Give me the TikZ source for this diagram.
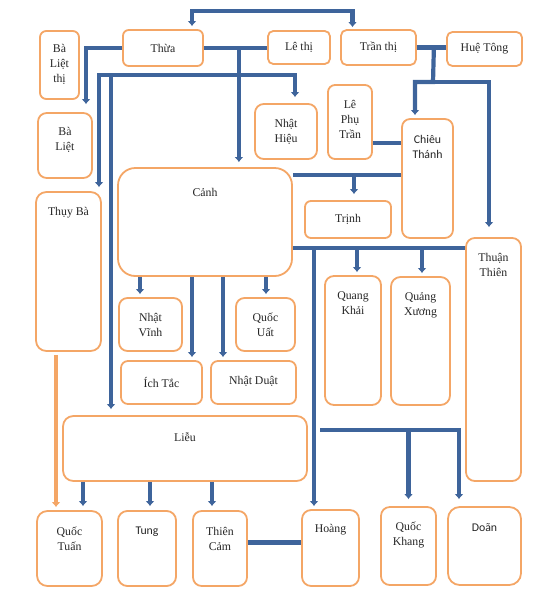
\documentclass[tikz,border=0pt]{standalone}
\usepackage{fontspec}
\setmainfont{Liberation Serif}
\newfontfamily\calibri{Carlito}
\usetikzlibrary{arrows.meta}

\definecolor{linkblue}{RGB}{62,100,155}
\definecolor{boxorange}{RGB}{244,166,102}

\begin{document}
\begin{tikzpicture}[
x=1pt,y=-1pt,
>={Latex[length=5pt,width=9pt]},
famnode/.style={
  draw=boxorange,
  line width=1.8pt,
  fill=white,
  inner sep=0pt
  },
famtext/.style={align=center,inner sep=0pt,text=black!85,font=\fontsize{11.8}{15}\selectfont},
link/.style={draw=linkblue,line width=4.2pt},
arrow/.style={link,->,shorten >=4pt},
orangearrow/.style={draw=boxorange,line width=3.5pt,->,shorten <=3pt,shorten >=3pt}
]
\useasboundingbox (0,0) rectangle (551,594);

% boxes: name/left/top/right/bottom
\foreach \n/\xa/\ya/\xb/\yb in {
  balietthi/40/31/79/99, thua/123/30/203/66, lethi/268/31/330/64,
  tranthi/341/30/416/65, huetong/447/32/522/66, baliet/38/113/92/178,
  nhathieu/255/104/317/159, lephutran/328/85/372/159,
  chieuthanh/402/119/453/238, canh/118/168/292/276, thuyba/36/192/101/351,
  trinh/305/201/391/238, thuanthien/466/238/521/481,
  quangkhai/325/276/381/405, quangxuong/391/277/450/405,
  nhatvinh/119/298/182/351, quocuat/236/298/295/351,
  ichtac/121/361/202/404, nhatduat/211/361/296/404, lieu/63/416/307/481,
  quoctuan/37/511/102/586, tung/118/511/176/586, thiencam/193/511/247/586,
  hoang/302/510/359/586, quockhang/381/507/436/585, doan/448/507/521/585}
{
  \pgfmathsetmacro\rad{0.16*min(\xb-\xa,\yb-\ya)}
  \node[famnode,rounded corners=\rad pt,minimum width=\xb-\xa,
    minimum height=\yb-\ya] (\n) at ({(\xa+\xb)/2},{(\ya+\yb)/2}) {};
}

% names
\foreach \n/\ty/\t in {
  balietthi/64/{Bà\\Liệt\\thị}, thua/48/{Thừa}, lethi/47.5/{Lê thị},
  tranthi/47.5/{Trần thị}, huetong/49/{Huệ Tông}, baliet/140/{Bà\\Liệt},
  nhathieu/131.5/{Nhật\\Hiệu}, lephutran/119.5/{Lê\\Phụ\\Trần},
  chieuthanh/146.5/{\calibri Chiêu\\\calibri Thánh}, canh/192/{Cảnh},
  thuyba/213/{Thụy Bà}, trinh/219.5/{Trịnh}, thuanthien/265/{Thuận\\Thiên},
  quangkhai/303.5/{Quang\\Khải}, quangxuong/305/{Quảng\\Xương},
  nhatvinh/325/{Nhật\\Vĩnh}, quocuat/325/{Quốc\\Uất}, ichtac/382/{Ích Tắc},
  nhatduat/381/{Nhật Duật}, lieu/437/{Liễu}, quoctuan/538.5/{Quốc\\Tuấn},
  tung/532/{\calibri Tung}, thiencam/538.5/{Thiên\\Cảm}, hoang/530/{Hoàng},
  quockhang/534.5/{Quốc\\Khang}, doan/528/{\calibri Doãn}}
  \node[famtext] (\n-t) at (\n.center |- 0,\ty) {\t};

% Thua and Tran thi
\draw[link,<->,shorten <=3pt,shorten >=2pt]
  ([xshift=29pt]thua.north) -- ++(0,-18) -| ([xshift=-26pt]tranthi.north);
\draw[arrow,shorten >=8pt] (thua.west) -| ([xshift=21pt]baliet.north);
\draw[link] (thua.east) -- (thua.east -| lethi.west);
\coordinate (thuaR) at ([xshift=35pt]thua.east);
\coordinate (hub) at (238,75);
\draw[arrow,shorten >=5pt] (thuaR) -- (thuaR |- canh.north);
\draw[arrow] (hub) -| ([xshift=30.5pt]thuyba.north);
\draw[arrow,shorten >=6pt] (hub) -| ([xshift=-74pt]lieu.north);
\draw[arrow,shorten >=6pt] (hub) -| ([xshift=9pt]nhathieu.north);

% Tran thi and Hue Tong
\draw[link] (tranthi.east) -- (tranthi.east -| huetong.west);
\coordinate (tranR) at ([xshift=17pt]tranthi.east);
\coordinate (hub2) at (433,82);
\draw[arrow,shorten >=3pt] (tranR) -- (hub2) -| ([xshift=-12.5pt]chieuthanh.north);
\draw[arrow,shorten >=10pt] (hub2) -| ([xshift=-4.5pt]thuanthien.north);

% Chieu Thanh
\coordinate (lpt) at ([yshift=-21pt]lephutran.east);
\draw[link] (lpt) -- (lpt -| chieuthanh.west);
\coordinate (cct) at (canh.east |- 0,175);
\draw[link] (cct) -- (cct -| chieuthanh.west);
\coordinate (trj) at (354,175);
\draw[arrow,shorten >=6pt] (trj) -- (trj |- trinh.north);

% Canh and Thuan Thien
\coordinate (ctt) at (canh.east |- 0,248);
\draw[link] (ctt) -- (ctt -| thuanthien.west);
\foreach \x/\t in {357/quangkhai,422/quangxuong,314/hoang}
  \draw[arrow,shorten >=3pt] (ctt -| \x,0) -- (\t.north -| \x,0);
\coordinate (kd) at (320,430);
\draw[arrow,shorten >=7pt] (kd) -| (doan.north -| 459,0);
\draw[arrow,shorten >=7pt] (kd -| quockhang.north) -- (quockhang.north);

% Canh's children
\foreach \x/\t in {140/nhatvinh,192/ichtac,223/nhatduat,266/quocuat}
  \draw[arrow,shorten >=3pt] (canh.south -| \x,0) -- (\t.north -| \x,0);

% Lieu's children
\foreach \x/\t in {83/quoctuan,150/tung,212/thiencam}
  \draw[arrow] (lieu.south -| \x,0) -- (\t.north -| \x,0);
\draw[orangearrow] (thuyba.south -| 56,0) -- (quoctuan.north -| 56,0);
\coordinate (tch) at ([yshift=6pt]thiencam.east);
\draw[link] (tch) -- (tch -| hoang.west);
\end{tikzpicture}
\end{document}
